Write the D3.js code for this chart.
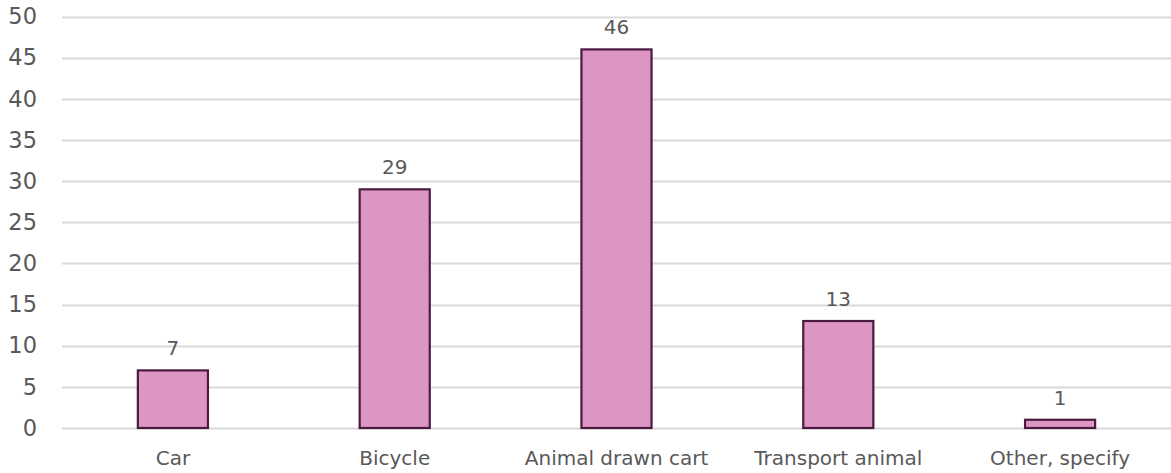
<!DOCTYPE html>
<html>
<head>
<meta charset="utf-8">
<script src="https://cdn.jsdelivr.net/npm/d3@7"></script>
<style>
  html, body { margin: 0; padding: 0; background: #ffffff; }
  svg { display: block; }
  text { font-family: "DejaVu Sans", Verdana, sans-serif; fill: #595959; }
</style>
</head>
<body>
<svg id="chart" width="1171" height="473"></svg>
<script>
// Mode of transport counts
const categories = ["Car", "Bicycle", "Animal drawn cart", "Transport animal", "Other, specify"];
const values = [7, 29, 46, 13, 1];
const yTicks = [0, 5, 10, 15, 20, 25, 30, 35, 40, 45, 50];

const W = 1171, H = 473;
const margin = { top: 16.5, right: 0, bottom: 45, left: 62 };

const svg = d3.select("#chart");

const x = d3.scaleBand()
  .domain(categories)
  .range([margin.left, W - margin.right])
  .paddingInner(0.684)
  .paddingOuter(0.342);

const y = d3.scaleLinear()
  .domain([0, 50])
  .range([H - margin.bottom, margin.top]);

// horizontal gridlines
svg.append("g")
  .selectAll("line")
  .data(yTicks)
  .join("line")
  .attr("x1", margin.left)
  .attr("x2", W - margin.right)
  .attr("y1", d => Math.round(y(d)) + 0.5)
  .attr("y2", d => Math.round(y(d)) + 0.5)
  .attr("stroke", "#d9d9d9")
  .attr("stroke-width", 2);

// y axis labels
const yAxis = d3.axisLeft(y).tickValues(yTicks).tickSize(0).tickPadding(0);
const gy = svg.append("g")
  .attr("transform", `translate(37,0)`)
  .call(yAxis);
gy.select(".domain").remove();
gy.selectAll("text")
  .attr("font-size", 22.5)
  .attr("fill", "#595959");

// bars
svg.append("g")
  .selectAll("rect")
  .data(values)
  .join("rect")
  .attr("x", (d, i) => x(categories[i]))
  .attr("y", d => y(d))
  .attr("width", x.bandwidth())
  .attr("height", d => y(0) - y(d))
  .attr("fill", "#dd96c4")
  .attr("stroke", "#4b1a40")
  .attr("stroke-width", 2.2);

// value labels
svg.append("g")
  .selectAll("text")
  .data(values)
  .join("text")
  .attr("x", (d, i) => x(categories[i]) + x.bandwidth() / 2)
  .attr("y", d => y(d) - 15)
  .attr("text-anchor", "middle")
  .attr("font-size", 20)
  .attr("fill", "#404040")
  .text(d => d);

// x axis labels
const xAxis = d3.axisBottom(x).tickSize(0).tickPadding(0);
const gx = svg.append("g")
  .attr("transform", `translate(0,${H - 8})`)
  .call(xAxis);
gx.select(".domain").remove();
gx.selectAll("text")
  .attr("font-size", 20)
  .attr("fill", "#595959")
  .attr("dy", 0);
</script>
</body>
</html>
